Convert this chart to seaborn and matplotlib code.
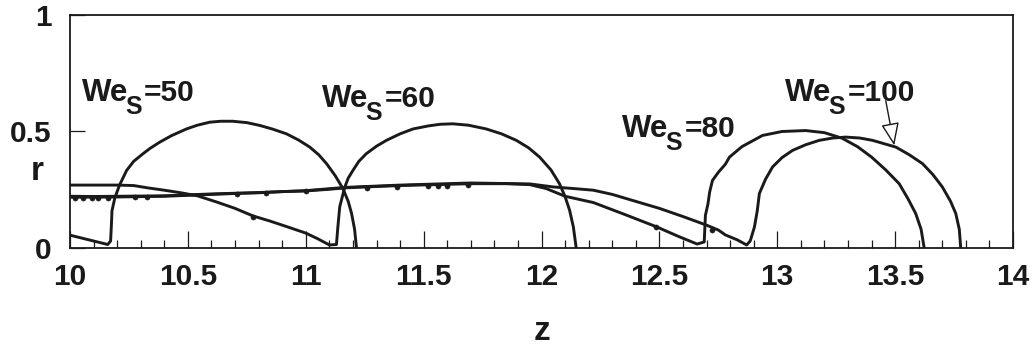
import matplotlib
matplotlib.use("Agg")
import matplotlib.pyplot as plt
from matplotlib.ticker import MultipleLocator, FixedLocator, FixedFormatter
import seaborn as sns

# ---- interface profiles r(z) for each Weber number ----
we50_z = [10.0, 10.08, 10.16, 10.172, 10.175, 10.178, 10.19, 10.21, 10.24, 10.27, 10.31,
          10.34, 10.38, 10.43, 10.494, 10.54, 10.593, 10.64, 10.69, 10.75, 10.805, 10.86,
          10.918, 10.97, 11.017, 11.055, 11.088, 11.125, 11.157, 11.18, 11.194, 11.207, 11.215]
we50_r = [0.055, 0.035, 0.015, 0.03, 0.09, 0.16, 0.215, 0.27, 0.333, 0.372, 0.405,
          0.428, 0.454, 0.482, 0.511, 0.527, 0.540, 0.544, 0.544, 0.538, 0.526, 0.51,
          0.49, 0.463, 0.433, 0.40, 0.362, 0.31, 0.256, 0.20, 0.149, 0.08, 0.0]

we60_z = [10.0, 10.1, 10.2, 10.27, 10.33, 10.40, 10.47, 10.54, 10.62, 10.70, 10.775, 10.85,
          10.93, 11.0, 11.05, 11.10, 11.13, 11.136, 11.144, 11.165, 11.18, 11.20, 11.225,
          11.257, 11.30, 11.342, 11.40, 11.455, 11.52, 11.57, 11.624, 11.69, 11.765, 11.83,
          11.893, 11.945, 11.992, 12.04, 12.076, 12.10, 12.119, 12.135, 12.147]
we60_r = [0.27, 0.27, 0.27, 0.268, 0.258, 0.248, 0.237, 0.224, 0.198, 0.17, 0.138, 0.115,
          0.088, 0.064, 0.04, 0.013, 0.015, 0.09, 0.177, 0.26, 0.30, 0.333, 0.372,
          0.405, 0.437, 0.462, 0.49, 0.511, 0.524, 0.531, 0.533, 0.527, 0.511, 0.49,
          0.462, 0.43, 0.39, 0.335, 0.276, 0.22, 0.162, 0.09, 0.0]

we80_z = [10.0, 10.1, 10.2, 10.3, 10.4, 10.5, 10.6, 10.7, 10.8, 10.9, 11.0, 11.1, 11.165,
          11.25, 11.4, 11.55, 11.7, 11.85, 11.95, 12.02, 12.1, 12.22, 12.35, 12.49, 12.58,
          12.66, 12.69, 12.695, 12.706, 12.713, 12.725, 12.75, 12.78, 12.797, 12.85, 12.937,
          13.02, 13.12, 13.2, 13.275, 13.34, 13.40, 13.46, 13.517, 13.555, 13.587, 13.61, 13.623]
we80_r = [0.222, 0.221, 0.222, 0.223, 0.224, 0.228, 0.232, 0.235, 0.237, 0.242, 0.245, 0.252, 0.258,
          0.262, 0.268, 0.272, 0.276, 0.276, 0.272, 0.255, 0.222, 0.195, 0.145, 0.09, 0.05,
          0.017, 0.026, 0.14, 0.19, 0.24, 0.29, 0.325, 0.36, 0.39, 0.435, 0.483,
          0.50, 0.504, 0.495, 0.471, 0.435, 0.39, 0.335, 0.276, 0.21, 0.148, 0.08, 0.0]

we100_z = [10.0, 10.2, 10.4, 10.6, 10.8, 11.0, 11.165, 11.4, 11.7, 11.95, 12.05, 12.15, 12.22,
           12.3, 12.4, 12.5, 12.6, 12.70, 12.75, 12.78, 12.83, 12.87, 12.885, 12.903, 12.915,
           12.924, 12.95, 12.98, 13.02, 13.065, 13.12, 13.178, 13.235, 13.29, 13.35, 13.404,
           13.503, 13.56, 13.616, 13.66, 13.70, 13.735, 13.757, 13.772, 13.778]
we100_r = [0.218, 0.219, 0.222, 0.23, 0.238, 0.246, 0.26, 0.27, 0.279, 0.275, 0.262, 0.254, 0.248,
           0.23, 0.20, 0.17, 0.135, 0.098, 0.077, 0.056, 0.035, 0.013, 0.03, 0.09, 0.16,
           0.234, 0.295, 0.348, 0.388, 0.419, 0.443, 0.462, 0.472, 0.476, 0.472, 0.462,
           0.433, 0.40, 0.362, 0.315, 0.262, 0.2, 0.148, 0.08, 0.0]

# sampled points drawn as dots along the threads
dots_z = [10.02, 10.055, 10.093, 10.12, 10.16, 10.275, 10.326, 10.71, 10.83, 11.0, 11.26,
          11.385, 11.52, 11.56, 11.60, 11.69, 10.775, 12.485, 12.725]
dots_r = [0.214, 0.214, 0.214, 0.214, 0.216, 0.218, 0.218, 0.231, 0.235, 0.243, 0.258,
          0.262, 0.268, 0.268, 0.268, 0.27, 0.135, 0.09, 0.077]

labels = ["50", "60", "80", "100"]
label_z = [10.05, 11.07, 12.343, 13.034]
label_r = [0.632, 0.607, 0.476, 0.632]

x_ticks = [10, 10.5, 11, 11.5, 12, 12.5, 13, 13.5, 14]
x_tick_labels = ["10", "10.5", "11", "11.5", "12", "12.5", "13", "13.5", "14"]
y_ticks = [0, 0.5, 1]
y_tick_labels = ["0", "0.5", "1"]

sns.set_theme(style="ticks")
plt.rcParams["font.family"] = ["Liberation Sans", "DejaVu Sans"]
plt.rcParams["font.weight"] = "bold"

ink = "#1a1a1a"
fig = plt.figure(figsize=(10.33, 3.47), dpi=100)
ax = fig.add_axes([0.0678, 0.2853, 0.9129, 0.6715])

for z, r in [(we50_z, we50_r), (we60_z, we60_r), (we80_z, we80_r), (we100_z, we100_r)]:
    sns.lineplot(x=z, y=r, sort=False, estimator=None, color=ink, linewidth=2.1, ax=ax)
sns.scatterplot(x=dots_z, y=dots_r, color=ink, s=14, edgecolor=None, ax=ax, zorder=3)

ax.set_xlim(10, 14)
ax.set_ylim(0, 1)

# Weber-number labels: "We", a dropped subscript "S", then "=value"
renderer = fig.canvas.get_renderer()
for txt, z, r in zip(labels, label_z, label_r):
    t_we = ax.text(z, r, "We", fontsize=22.5, fontweight="bold", color=ink,
                   ha="left", va="baseline")
    w_we = t_we.get_window_extent(renderer).width
    t_s = ax.annotate("S", xy=(z, r), xytext=(w_we - 3, -13), textcoords="offset pixels",
                      fontsize=18, fontweight="bold", color=ink, ha="left", va="baseline")
    w_s = t_s.get_window_extent(renderer).width
    ax.annotate("=" + txt, xy=(z, r), xytext=(w_we - 3 + w_s + 2, 0),
                textcoords="offset pixels", fontsize=21.5, fontweight="bold", color=ink,
                ha="left", va="baseline")

ax.annotate("", xy=(13.496, 0.44), xytext=(13.46, 0.632),
            arrowprops=dict(arrowstyle="-|>,head_length=0.7,head_width=0.28",
                            fc="white", ec=ink, lw=1.0, mutation_scale=20,
                            shrinkA=0, shrinkB=0))

ax.xaxis.set_major_locator(FixedLocator(x_ticks))
ax.xaxis.set_major_formatter(FixedFormatter(x_tick_labels))
ax.xaxis.set_minor_locator(MultipleLocator(0.1))
ax.yaxis.set_major_locator(FixedLocator(y_ticks))
ax.yaxis.set_major_formatter(FixedFormatter(y_tick_labels))

ax.tick_params(axis="x", which="major", direction="in", length=12, width=0.9,
               pad=11, labelsize=21.5, colors=ink)
ax.tick_params(axis="x", which="minor", direction="in", length=6, width=0.9, colors=ink)
ax.tick_params(axis="y", which="major", direction="in", length=11, width=0.9,
               pad=13, labelsize=21.5, colors=ink)
for lab in ax.get_xticklabels() + ax.get_yticklabels():
    lab.set_fontweight("bold")

for side in ["top", "right", "bottom", "left"]:
    ax.spines[side].set_visible(True)
    ax.spines[side].set_color(ink)
    ax.spines[side].set_linewidth(1.3)

ax.set_xlabel("z", fontsize=24, fontweight="bold", color=ink)
ax.xaxis.set_label_coords(0.5, -0.36)
ax.xaxis.label.set_va("center")
ax.set_ylabel("r", fontsize=24, fontweight="bold", color=ink, rotation=0)
ax.yaxis.set_label_coords(-0.035, 0.33)
ax.yaxis.label.set_va("center")
ax.yaxis.label.set_ha("center")

fig.savefig("out.png", dpi=100)
